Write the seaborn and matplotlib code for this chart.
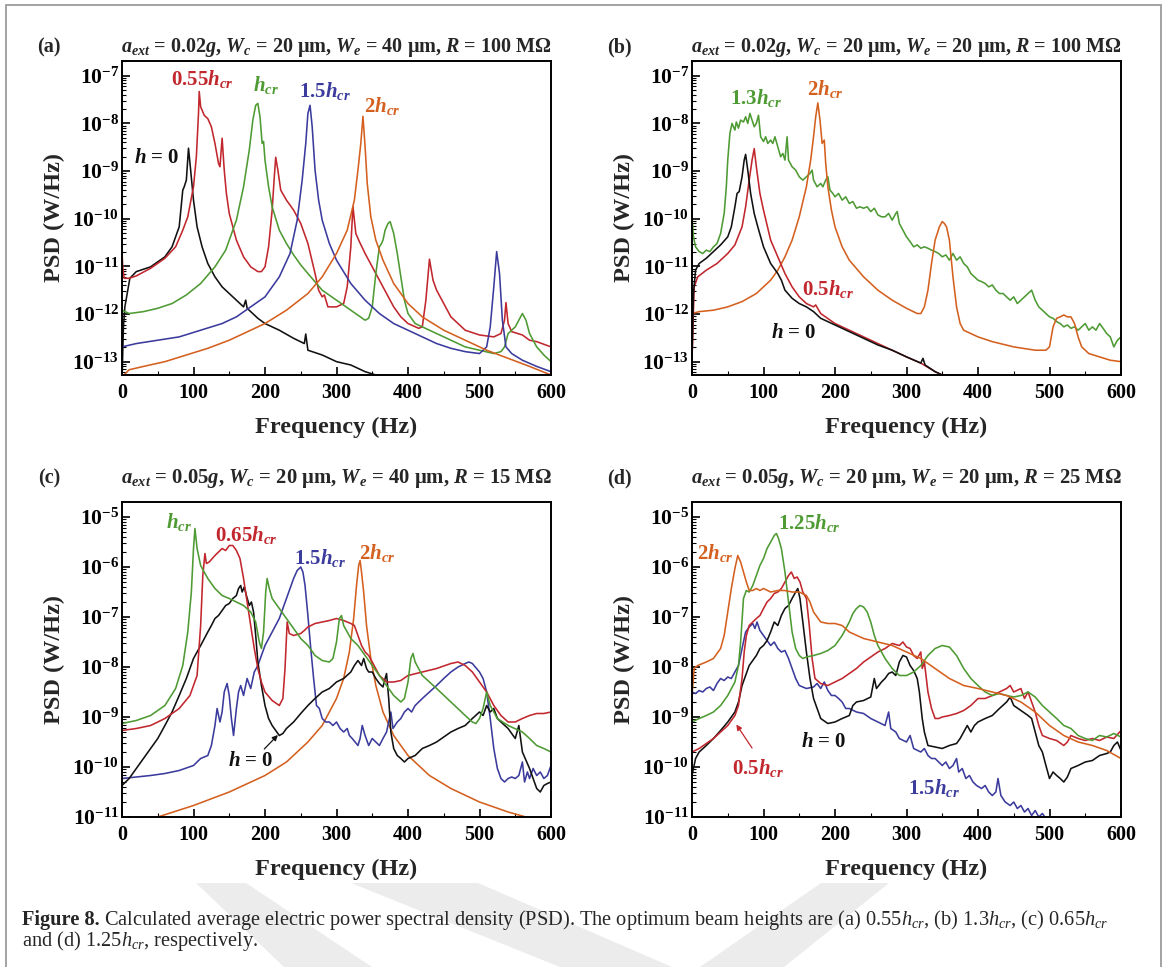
import numpy as np
import pandas as pd
import matplotlib
matplotlib.use("Agg")
import matplotlib.pyplot as plt
import seaborn as sns
from matplotlib.ticker import LogLocator, MultipleLocator, FuncFormatter, NullFormatter
from matplotlib.patches import Polygon, Rectangle

# ---------------------------------------------------------------------------
# PSD curves: (frequency in Hz, log10 of PSD in W/Hz)
# ---------------------------------------------------------------------------
# (a) a_ext = 0.02g, We = 40 um, R = 100 MOhm
A_H0 = [(0, -13.4), (2, -12.27), (4, -11.85), (11, -11.25), (20, -11.11), (40, -11.01), (60, -10.80),
        (70, -10.59), (80, -10.17), (85, -9.40), (87, -9.33), (90, -9.19), (93, -8.52), (96, -8.98),
        (100, -9.61), (105, -10.17), (112, -10.59), (120, -10.94), (130, -11.22), (140, -11.43),
        (150, -11.57), (160, -11.71), (170, -11.85), (173, -11.71), (175, -11.88), (190, -12.09),
        (200, -12.20), (220, -12.34), (240, -12.51), (255, -12.62), (257, -12.42), (260, -12.76),
        (280, -12.86), (300, -13.00), (320, -13.07), (340, -13.21), (355, -13.28), (365, -13.35)]
A_055 = [(0, -10.70), (1, -11.0), (3, -11.25), (10, -11.25), (20, -11.2), (40, -11.04), (60, -10.83),
         (75, -10.59), (85, -10.24), (92, -9.96), (100, -9.33), (104, -8.70), (107, -7.79), (108, -7.33),
         (110, -7.65), (115, -7.83), (120, -7.90), (125, -8.07), (130, -8.42), (135, -8.84), (137, -8.91),
         (140, -8.31), (143, -8.98), (146, -9.47), (150, -9.89), (160, -10.45), (170, -10.80),
         (180, -11.01), (190, -11.11), (195, -11.11), (200, -11.01), (205, -10.59), (210, -9.82),
         (213, -9.12), (215, -8.71), (218, -8.98), (222, -9.40), (230, -9.61), (240, -9.82),
         (250, -10.10), (260, -10.52), (270, -11.15), (275, -11.50), (280, -11.64), (283, -11.60),
         (288, -11.85), (300, -11.85), (310, -11.78), (315, -11.43), (320, -10.59), (323, -9.74),
         (327, -10.31), (332, -10.48), (340, -10.73), (350, -11.01), (360, -11.29), (370, -11.57),
         (380, -11.85), (390, -12.06), (400, -12.20), (415, -12.30), (420, -12.27), (425, -11.71),
         (430, -10.85), (435, -11.29), (440, -11.50), (450, -11.78), (460, -12.06), (480, -12.34),
         (500, -12.44), (520, -12.48), (530, -12.41), (535, -12.13), (537, -11.76), (540, -12.20),
         (545, -12.37), (560, -12.44), (570, -12.55), (580, -12.58), (600, -12.69)]
A_100 = [(0, -11.92), (10, -11.99), (30, -11.95), (50, -11.88), (70, -11.78), (90, -11.60), (110, -11.36),
         (130, -11.01), (145, -10.66), (160, -10.03), (170, -9.33), (178, -8.56), (183, -7.93),
         (187, -7.62), (190, -7.58), (193, -7.86), (196, -8.42), (198, -8.38), (200, -8.77), (205, -9.33),
         (210, -9.75), (220, -10.24), (230, -10.52), (240, -10.76), (250, -10.97), (260, -11.15),
         (280, -11.50), (300, -11.71), (320, -11.92), (340, -12.13), (345, -12.09), (350, -11.85),
         (355, -11.15), (360, -10.59), (363, -10.52), (365, -10.45), (368, -10.24), (372, -10.10),
         (375, -10.06), (380, -10.31), (385, -10.73), (390, -11.22), (395, -11.71), (400, -11.99),
         (410, -12.20), (420, -12.27), (440, -12.41), (460, -12.55), (480, -12.69), (500, -12.76),
         (520, -12.83), (530, -12.79), (535, -12.69), (540, -12.41), (545, -12.34), (550, -12.27),
         (555, -12.13), (560, -11.99), (565, -12.13), (570, -12.41), (580, -12.69), (590, -12.86),
         (600, -13.00)]
A_150 = [(0, -12.69), (20, -12.62), (50, -12.55), (80, -12.48), (110, -12.34), (140, -12.20), (160, -12.06),
         (180, -11.85), (200, -11.64), (220, -11.22), (235, -10.73), (245, -10.03), (252, -9.19),
         (257, -8.42), (260, -7.79), (263, -7.62), (266, -8.07), (270, -8.98), (275, -9.61), (280, -10.03),
         (290, -10.52), (300, -10.87), (320, -11.36), (340, -11.71), (360, -11.99), (380, -12.20),
         (400, -12.34), (420, -12.48), (440, -12.62), (460, -12.72), (480, -12.79), (500, -12.83),
         (510, -12.69), (515, -12.27), (520, -11.43), (524, -10.69), (528, -11.15), (532, -12.13),
         (537, -12.69), (545, -12.83), (560, -12.97), (580, -13.10), (600, -13.21)]
A_200 = [(0, -13.32), (10, -13.17), (30, -13.10), (60, -13.00), (90, -12.86), (120, -12.72), (150, -12.55),
         (180, -12.34), (200, -12.20), (230, -11.92), (260, -11.57), (280, -11.22), (300, -10.73),
         (315, -10.24), (325, -9.61), (330, -8.98), (334, -8.42), (337, -7.85), (340, -8.49),
         (343, -9.26), (348, -9.96), (355, -10.45), (365, -10.87), (380, -11.36), (400, -11.78),
         (420, -12.06), (450, -12.34), (480, -12.55), (510, -12.76), (540, -12.93), (570, -13.10),
         (600, -13.28)]

# (b) a_ext = 0.02g, We = 20 um, R = 100 MOhm
B_H0 = [(0, -12.97), (2, -11.57), (5, -11.08), (10, -10.94), (20, -10.83), (30, -10.69), (40, -10.55),
        (50, -10.38), (55, -10.17), (60, -9.75), (63, -9.47), (66, -9.43), (70, -9.12), (73, -8.77),
        (75, -8.65), (78, -8.98), (82, -9.47), (87, -9.89), (92, -10.17), (100, -10.59), (110, -10.94),
        (120, -11.15), (125, -11.29), (130, -11.50), (140, -11.67), (150, -11.78), (160, -11.85),
        (170, -11.95), (180, -12.09), (190, -12.16), (200, -12.23), (220, -12.37), (240, -12.51),
        (260, -12.65), (280, -12.76), (300, -12.90), (320, -13.03), (323, -12.93), (326, -13.07),
        (340, -13.21), (350, -13.28), (360, -13.35)]
B_050 = [(0, -12.97), (3, -11.43), (8, -11.22), (20, -11.08), (35, -10.94), (50, -10.73), (60, -10.55),
         (70, -10.17), (75, -9.75), (80, -9.19), (84, -8.77), (87, -8.53), (90, -8.91), (95, -9.47),
         (100, -9.82), (110, -10.45), (120, -10.80), (130, -11.15), (140, -11.43), (150, -11.64),
         (160, -11.78), (170, -11.85), (173, -11.81), (180, -11.99), (200, -12.20), (220, -12.34),
         (240, -12.48), (260, -12.62), (280, -12.76), (300, -12.90), (320, -13.03), (340, -13.21),
         (350, -13.28), (360, -13.35)]
B_130 = [(0, -9.96), (2, -10.38), (5, -10.59), (10, -10.69), (15, -10.73), (20, -10.66), (25, -10.69),
         (30, -10.59), (35, -10.52), (40, -10.31), (45, -9.89), (48, -9.33), (50, -8.77), (53, -8.21),
         (56, -8.00), (60, -8.14), (62, -7.97), (65, -8.10), (68, -7.93), (72, -7.97), (75, -7.86),
         (78, -8.00), (81, -7.79), (84, -7.93), (87, -8.07), (90, -8.00), (93, -7.83), (96, -8.28),
         (100, -8.38), (103, -8.28), (106, -8.42), (110, -8.35), (113, -8.42), (116, -8.28),
         (120, -8.49), (124, -8.70), (127, -8.63), (130, -8.77), (133, -8.28), (135, -8.77),
         (140, -8.91), (145, -8.98), (150, -9.12), (155, -9.19), (160, -9.12), (165, -9.05),
         (168, -8.98), (170, -9.19), (175, -9.33), (180, -9.26), (183, -9.33), (187, -9.19),
         (190, -9.12), (193, -9.40), (197, -9.47), (200, -9.54), (205, -9.47), (210, -9.61),
         (215, -9.54), (220, -9.68), (225, -9.64), (230, -9.78), (235, -9.75), (240, -9.78),
         (245, -9.75), (250, -9.85), (255, -9.78), (260, -9.92), (265, -9.96), (270, -9.96),
         (275, -9.89), (280, -10.03), (285, -9.89), (287, -9.85), (290, -10.10), (295, -10.24),
         (300, -10.38), (305, -10.48), (310, -10.59), (315, -10.55), (320, -10.62), (325, -10.59),
         (330, -10.62), (335, -10.66), (340, -10.69), (345, -10.73), (350, -10.80), (355, -10.76),
         (360, -10.87), (365, -10.73), (370, -10.87), (375, -10.80), (380, -10.94), (385, -11.01),
         (390, -11.15), (395, -11.22), (400, -11.29), (405, -11.32), (410, -11.36), (415, -11.43),
         (420, -11.39), (425, -11.50), (430, -11.57), (435, -11.57), (440, -11.64), (445, -11.71),
         (450, -11.64), (455, -11.78), (460, -11.71), (465, -11.64), (470, -11.57), (475, -11.50),
         (480, -11.71), (485, -11.85), (490, -11.92), (495, -11.99), (500, -12.06), (505, -12.09),
         (510, -12.16), (515, -12.20), (520, -12.27), (525, -12.23), (530, -12.30), (535, -12.27),
         (540, -12.34), (545, -12.27), (550, -12.20), (555, -12.34), (560, -12.27), (565, -12.34),
         (570, -12.20), (575, -12.30), (580, -12.41), (585, -12.48), (590, -12.69), (595, -12.55),
         (600, -12.48)]
B_200 = [(0, -11.99), (10, -11.95), (30, -11.92), (50, -11.85), (70, -11.74), (90, -11.57), (110, -11.29),
         (120, -11.08), (130, -10.80), (140, -10.45), (150, -9.96), (160, -9.33), (166, -8.77),
         (170, -8.28), (173, -7.86), (176, -7.57), (179, -7.93), (182, -8.42), (185, -8.35), (187, -8.84),
         (190, -9.33), (195, -9.82), (200, -10.17), (210, -10.59), (220, -10.87), (240, -11.22),
         (260, -11.50), (280, -11.71), (300, -11.88), (315, -11.99), (320, -11.99), (325, -11.85),
         (330, -11.50), (335, -10.94), (340, -10.45), (343, -10.31), (346, -10.17), (350, -10.06),
         (353, -10.10), (356, -10.17), (360, -10.45), (365, -11.22), (370, -11.85), (375, -12.20),
         (380, -12.34), (400, -12.48), (420, -12.58), (450, -12.69), (480, -12.76), (495, -12.76),
         (500, -12.69), (505, -12.27), (510, -12.09), (515, -12.06), (520, -12.02), (525, -12.06),
         (530, -12.06), (535, -12.20), (540, -12.48), (545, -12.69), (555, -12.83), (570, -12.90),
         (585, -12.97), (600, -13.00)]

# (c) a_ext = 0.05g, We = 40 um, R = 15 MOhm
C_H0 = [(0, -10.37), (10, -10.23), (20, -10.03), (30, -9.83), (40, -9.63), (50, -9.43), (60, -9.17),
        (70, -8.90), (80, -8.57), (90, -8.23), (100, -7.83), (110, -7.57), (120, -7.30), (125, -7.17),
        (130, -7.03), (135, -6.97), (140, -6.87), (145, -6.77), (150, -6.73), (155, -6.63), (160, -6.57),
        (163, -6.43), (166, -6.37), (168, -6.50), (171, -6.40), (174, -6.57), (178, -6.77), (181, -6.70),
        (184, -6.90), (187, -7.37), (190, -7.90), (195, -8.37), (200, -8.77), (205, -9.03), (210, -9.17),
        (215, -9.27), (220, -9.37), (225, -9.33), (230, -9.23), (240, -9.10), (250, -8.93), (260, -8.77),
        (270, -8.63), (280, -8.50), (290, -8.43), (300, -8.30), (310, -8.23), (320, -8.10), (325, -7.97),
        (330, -7.87), (335, -7.97), (338, -7.83), (342, -8.03), (345, -8.10), (350, -8.10), (355, -8.23),
        (360, -8.33), (365, -8.40), (368, -8.23), (370, -8.13), (373, -8.63), (376, -9.30), (380, -9.63),
        (385, -9.77), (390, -9.83), (395, -9.90), (400, -9.83), (410, -9.77), (420, -9.63), (430, -9.57),
        (440, -9.50), (450, -9.40), (460, -9.30), (470, -9.23), (480, -9.17), (490, -9.03), (500, -8.90),
        (505, -8.97), (510, -8.77), (515, -8.90), (520, -8.83), (525, -9.03), (530, -9.10), (540, -9.23),
        (550, -9.43), (555, -9.17), (560, -9.70), (570, -10.03), (575, -10.23), (580, -10.43),
        (585, -10.50), (590, -10.37), (595, -10.33), (600, -10.30)]
C_065 = [(0, -9.27), (20, -9.23), (40, -9.17), (60, -9.03), (80, -8.83), (95, -8.57), (105, -8.17),
         (110, -7.17), (113, -6.17), (116, -5.73), (118, -5.93), (122, -5.90), (130, -5.77), (140, -5.63),
         (145, -5.67), (150, -5.57), (155, -5.57), (160, -5.67), (165, -5.83), (170, -6.23), (175, -6.70),
         (180, -7.17), (185, -7.63), (190, -8.03), (195, -8.30), (200, -8.50), (210, -8.67), (220, -8.77),
         (225, -8.63), (228, -8.03), (231, -7.10), (234, -7.33), (240, -7.37), (250, -7.33), (255, -7.27),
         (260, -7.20), (270, -7.13), (280, -7.10), (290, -7.07), (300, -7.03), (310, -7.07), (320, -7.13),
         (325, -7.17), (330, -7.37), (335, -7.57), (340, -7.70), (345, -7.77), (350, -7.90), (360, -8.17),
         (370, -8.30), (380, -8.30), (390, -8.27), (400, -8.17), (420, -8.10), (440, -8.03), (460, -7.93),
         (470, -7.90), (480, -7.97), (490, -8.10), (500, -8.30), (510, -8.50), (520, -8.77), (530, -8.97),
         (540, -9.10), (550, -9.10), (560, -9.03), (570, -8.97), (580, -8.93), (590, -8.93), (600, -8.90)]
C_100 = [(0, -9.13), (20, -9.07), (40, -8.97), (60, -8.77), (75, -8.43), (85, -7.97), (92, -7.30),
         (97, -6.50), (100, -5.63), (102, -5.23), (105, -5.63), (110, -5.97), (115, -6.10), (120, -6.23),
         (130, -6.43), (140, -6.57), (150, -6.63), (160, -6.70), (170, -6.77), (180, -6.90), (187, -7.10),
         (192, -7.50), (195, -7.63), (198, -7.30), (201, -6.50), (203, -6.23), (206, -6.43), (210, -6.63),
         (220, -6.83), (230, -7.03), (240, -7.23), (250, -7.43), (260, -7.57), (270, -7.77), (280, -7.87),
         (290, -7.90), (295, -7.83), (300, -7.50), (304, -7.03), (307, -6.97), (310, -7.17), (320, -7.43),
         (330, -7.57), (340, -7.77), (350, -7.97), (360, -8.17), (370, -8.37), (380, -8.57), (390, -8.70),
         (395, -8.63), (400, -8.30), (404, -7.83), (407, -7.73), (410, -7.90), (420, -8.17), (440, -8.43),
         (460, -8.70), (480, -8.97), (490, -9.10), (495, -9.13), (500, -9.03), (505, -8.83), (510, -8.50),
         (515, -8.77), (525, -9.03), (540, -9.17), (560, -9.30), (570, -9.43), (580, -9.57), (590, -9.63),
         (600, -9.70)]
C_150 = [(0, -10.23), (20, -10.20), (40, -10.17), (60, -10.13), (80, -10.07), (100, -9.97), (110, -9.83),
         (120, -9.77), (125, -9.57), (130, -9.17), (133, -8.83), (137, -9.10), (140, -8.90), (143, -8.50),
         (147, -8.33), (150, -8.57), (153, -9.03), (156, -9.37), (160, -8.83), (163, -8.50), (166, -8.37),
         (170, -8.57), (175, -8.23), (180, -8.43), (185, -8.10), (190, -7.97), (195, -7.77), (200, -7.57),
         (210, -7.30), (220, -7.03), (230, -6.63), (240, -6.23), (245, -6.07), (250, -6.00), (253, -6.10),
         (256, -6.37), (260, -6.97), (264, -7.63), (268, -8.23), (272, -8.77), (276, -8.83), (280, -9.03),
         (285, -9.10), (290, -9.10), (295, -9.17), (300, -9.10), (305, -9.23), (310, -9.30), (315, -9.23),
         (318, -9.37), (322, -9.43), (326, -9.50), (330, -9.57), (333, -9.43), (336, -9.17), (340, -9.37),
         (345, -9.57), (350, -9.43), (355, -9.50), (360, -9.57), (365, -9.43), (370, -9.30), (373, -9.10),
         (376, -8.90), (379, -9.23), (385, -9.10), (390, -9.03), (395, -8.90), (400, -8.83), (405, -8.90),
         (410, -8.77), (420, -8.63), (430, -8.50), (440, -8.37), (450, -8.23), (460, -8.10), (470, -8.00),
         (480, -7.93), (485, -7.90), (490, -7.93), (500, -8.10), (505, -8.23), (510, -8.50), (515, -9.03),
         (520, -9.63), (525, -10.03), (530, -10.23), (535, -10.30), (540, -10.23), (545, -10.20),
         (550, -10.23), (555, -10.17), (560, -9.90), (563, -10.30), (567, -10.10), (570, -10.23),
         (575, -10.03), (580, -10.17), (585, -10.10), (590, -10.23), (595, -10.17), (600, -9.97)]
C_200 = [(0, -11.23), (50, -11.00), (100, -10.77), (150, -10.50), (200, -10.17), (230, -9.90), (260, -9.50),
         (280, -9.17), (300, -8.63), (310, -8.23), (318, -7.70), (324, -7.03), (328, -6.37), (331, -5.97),
         (333, -5.87), (335, -6.10), (338, -6.50), (342, -7.17), (348, -7.83), (355, -8.37), (365, -8.90),
         (380, -9.37), (400, -9.77), (430, -10.17), (460, -10.43), (500, -10.70), (540, -10.90),
         (565, -11.00), (600, -11.23)]

# (d) a_ext = 0.05g, We = 20 um, R = 25 MOhm
D_H0 = [(0, -10.17), (5, -9.83), (10, -9.70), (20, -9.57), (30, -9.43), (40, -9.27), (50, -9.10), (60, -8.90),
        (65, -8.70), (70, -8.37), (75, -8.17), (80, -7.97), (85, -7.87), (90, -7.77), (95, -7.63),
        (100, -7.57), (105, -7.47), (110, -7.30), (115, -7.10), (120, -7.17), (125, -6.97), (130, -6.83),
        (135, -6.77), (140, -6.63), (145, -6.50), (148, -6.43), (151, -6.63), (155, -7.10), (160, -7.70),
        (165, -8.23), (170, -8.63), (180, -9.03), (190, -9.13), (200, -9.10), (210, -9.03), (220, -8.97),
        (225, -8.77), (230, -8.70), (240, -8.67), (250, -8.60), (255, -8.23), (258, -8.43), (265, -8.30),
        (270, -8.23), (275, -8.13), (280, -8.10), (285, -8.17), (290, -7.90), (295, -7.77), (300, -7.80),
        (305, -7.97), (310, -8.07), (315, -8.23), (318, -8.50), (322, -9.03), (325, -9.30), (330, -9.57),
        (340, -9.60), (350, -9.63), (360, -9.57), (370, -9.53), (375, -9.43), (380, -9.30), (385, -9.17),
        (390, -9.30), (395, -9.17), (400, -9.10), (410, -9.03), (420, -8.97), (430, -8.83), (440, -8.70),
        (445, -8.60), (450, -8.77), (460, -8.87), (470, -8.97), (475, -9.03), (480, -9.30), (485, -9.57),
        (490, -9.70), (495, -9.97), (500, -10.23), (505, -10.10), (510, -10.17), (515, -10.23),
        (520, -10.30), (525, -10.20), (530, -10.03), (540, -9.97), (550, -9.90), (560, -9.87),
        (570, -9.77), (580, -9.73), (585, -9.70), (590, -9.57), (595, -9.50), (600, -9.67)]
D_050 = [(0, -9.70), (10, -9.63), (20, -9.53), (30, -9.43), (40, -9.30), (50, -9.17), (60, -8.97),
         (65, -8.77), (70, -8.23), (73, -7.70), (76, -7.37), (80, -7.17), (85, -7.10), (90, -7.03),
         (95, -6.97), (100, -6.83), (105, -6.70), (110, -6.63), (115, -6.53), (120, -6.50), (125, -6.43),
         (130, -6.30), (135, -6.17), (139, -6.10), (143, -6.23), (147, -6.20), (151, -6.30), (155, -6.50),
         (160, -6.63), (164, -7.17), (168, -7.83), (172, -8.23), (180, -8.33), (190, -8.37), (200, -8.30),
         (210, -8.23), (220, -8.13), (230, -8.03), (240, -7.90), (250, -7.80), (260, -7.70), (270, -7.63),
         (280, -7.53), (290, -7.57), (295, -7.50), (300, -7.60), (305, -7.63), (310, -7.77), (315, -7.83),
         (320, -7.70), (322, -8.03), (325, -7.90), (330, -8.50), (335, -8.83), (340, -9.03), (345, -9.03),
         (350, -9.00), (360, -8.97), (370, -8.93), (380, -8.87), (390, -8.77), (400, -8.63), (410, -8.63),
         (420, -8.57), (430, -8.50), (440, -8.43), (445, -8.37), (450, -8.50), (460, -8.43), (465, -8.63),
         (470, -8.50), (475, -8.70), (480, -8.90), (485, -9.17), (490, -9.37), (500, -9.43), (510, -9.47),
         (520, -9.57), (525, -9.50), (530, -9.37), (540, -9.43), (550, -9.47), (560, -9.43), (570, -9.47),
         (580, -9.40), (590, -9.43), (600, -9.27)]
D_125 = [(0, -9.10), (10, -9.03), (20, -8.97), (30, -8.90), (40, -8.77), (50, -8.57), (60, -8.30),
         (65, -7.97), (68, -7.50), (72, -6.63), (76, -6.47), (80, -6.50), (85, -6.37), (90, -6.17),
         (95, -5.97), (100, -5.83), (105, -5.63), (110, -5.50), (115, -5.37), (118, -5.33), (121, -5.43),
         (125, -5.63), (130, -6.10), (135, -6.70), (140, -7.30), (145, -7.63), (150, -7.77), (155, -7.83),
         (160, -7.80), (170, -7.77), (180, -7.73), (190, -7.67), (200, -7.57), (210, -7.37), (220, -7.10),
         (225, -6.93), (230, -6.83), (235, -6.77), (240, -6.80), (245, -6.90), (250, -7.10), (255, -7.37),
         (260, -7.57), (270, -7.83), (280, -8.03), (290, -8.17), (300, -8.17), (310, -8.10), (320, -7.97),
         (330, -7.77), (340, -7.63), (350, -7.57), (360, -7.60), (370, -7.77), (380, -8.03), (390, -8.23),
         (400, -8.37), (410, -8.50), (420, -8.57), (430, -8.53), (440, -8.57), (450, -8.60), (460, -8.57),
         (470, -8.50), (480, -8.60), (490, -8.77), (500, -8.90), (510, -9.03), (520, -9.17), (530, -9.23),
         (540, -9.37), (550, -9.43), (560, -9.47), (570, -9.37), (580, -9.40), (590, -9.33), (600, -9.40)]
D_150 = [(0, -8.50), (5, -8.53), (10, -8.47), (15, -8.50), (20, -8.43), (25, -8.40), (30, -8.47), (35, -8.33),
         (40, -8.23), (45, -8.27), (50, -8.20), (55, -8.23), (60, -8.10), (65, -7.97), (70, -7.63),
         (75, -7.30), (80, -7.20), (85, -7.13), (88, -7.23), (91, -7.10), (95, -7.27), (100, -7.37),
         (105, -7.47), (110, -7.57), (115, -7.50), (120, -7.63), (125, -7.70), (130, -7.67), (135, -7.83),
         (140, -8.03), (145, -8.23), (150, -8.37), (160, -8.43), (170, -8.40), (175, -8.33), (180, -8.43),
         (185, -8.30), (190, -8.47), (195, -8.57), (200, -8.57), (205, -8.63), (210, -8.70), (215, -8.83),
         (220, -8.83), (230, -8.90), (240, -8.93), (250, -9.03), (260, -9.10), (270, -9.17), (275, -8.90),
         (278, -9.23), (285, -9.30), (290, -9.43), (300, -9.50), (305, -9.37), (310, -9.63), (320, -9.70),
         (325, -9.63), (330, -9.77), (335, -9.83), (340, -9.83), (345, -9.90), (350, -9.97), (355, -9.90),
         (360, -10.03), (365, -9.97), (370, -9.83), (373, -10.10), (378, -10.03), (383, -10.23),
         (388, -10.17), (393, -10.30), (398, -10.37), (405, -10.43), (410, -10.37), (415, -10.50),
         (420, -10.57), (425, -10.50), (428, -10.23), (432, -10.57), (438, -10.70), (445, -10.77),
         (450, -10.70), (455, -10.83), (460, -10.77), (465, -10.90), (470, -10.83), (475, -10.97),
         (480, -10.87), (485, -11.00), (490, -10.93), (495, -11.03), (500, -11.10), (510, -11.00),
         (520, -11.17), (530, -11.07), (535, -11.00), (540, -11.23)]
D_200 = [(0, -8.57), (3, -8.03), (8, -7.97), (20, -7.90), (30, -7.83), (40, -7.63), (45, -7.37), (50, -6.90),
         (55, -6.43), (60, -6.03), (64, -5.77), (68, -5.90), (72, -6.10), (76, -6.30), (80, -6.47),
         (85, -6.47), (90, -6.43), (95, -6.47), (100, -6.43), (110, -6.50), (120, -6.47), (130, -6.47),
         (140, -6.50), (150, -6.50), (160, -6.57), (165, -6.70), (170, -6.90), (180, -7.10), (190, -7.13),
         (200, -7.13), (210, -7.17), (220, -7.30), (240, -7.43), (260, -7.50), (280, -7.57), (300, -7.70),
         (320, -7.83), (340, -8.03), (360, -8.23), (380, -8.37), (400, -8.43), (420, -8.50), (440, -8.57),
         (460, -8.70), (480, -8.90), (500, -9.17), (520, -9.37), (540, -9.50), (560, -9.57), (580, -9.67),
         (600, -9.83)]

# Panel headers and curve annotations
PANEL_TAGS = ["(a)", "(b)", "(c)", "(d)"]
PANEL_TITLES = [
    r"$\mathbfit{a}_{\mathbfit{ext}}$ = 0.02$\mathbfit{g}$, $\mathbfit{W}_{\mathbfit{c}}$ = 20 μm, "
    r"$\mathbfit{W}_{\mathbfit{e}}$ = 40 μm, $\mathbfit{R}$ = 100 MΩ",
    r"$\mathbfit{a}_{\mathbfit{ext}}$ = 0.02$\mathbfit{g}$, $\mathbfit{W}_{\mathbfit{c}}$ = 20 μm, "
    r"$\mathbfit{W}_{\mathbfit{e}}$ = 20 μm, $\mathbfit{R}$ = 100 MΩ",
    r"$\mathbfit{a}_{\mathbfit{ext}}$ = 0.05$\mathbfit{g}$, $\mathbfit{W}_{\mathbfit{c}}$ = 20 μm, "
    r"$\mathbfit{W}_{\mathbfit{e}}$ = 40 μm, $\mathbfit{R}$ = 15 MΩ",
    r"$\mathbfit{a}_{\mathbfit{ext}}$ = 0.05$\mathbfit{g}$, $\mathbfit{W}_{\mathbfit{c}}$ = 20 μm, "
    r"$\mathbfit{W}_{\mathbfit{e}}$ = 20 μm, $\mathbfit{R}$ = 25 MΩ",
]
HCR = r"$\mathbfit{h}_{\mathbfit{cr}}$"
H_ZERO = r"$\mathbfit{h}$ = 0"
X_TICKS = [0, 100, 200, 300, 400, 500, 600]
X_LABEL = "Frequency (Hz)"
Y_LABEL = "PSD (W/Hz)"
CAPTION_BOLD = "Figure 8."
CAPTION_1 = (r"Calculated average electric power spectral density (PSD). "
             r"The optimum beam heights are (a) 0.55$h_{cr}$, (b) 1.3$h_{cr}$, (c) 0.65$h_{cr}$")
CAPTION_2 = r"and (d) 1.25$h_{cr}$, respectively."

RED, GREEN, BLUE, ORANGE, BLACK = "#c1272d", "#4e9a33", "#3b3b9d", "#d4601f", "#111111"

PANELS = [
    dict(curves={"h0": (A_H0, BLACK), "0.55": (A_055, RED), "1.0": (A_100, GREEN),
                 "1.5": (A_150, BLUE), "2.0": (A_200, ORANGE)},
         ylim=(10 ** -13.28, 10 ** -6.69),
         labels=[(49, -8.73, H_ZERO, BLACK), (112, -7.06, "0.55" + HCR, RED), (201, -7.2, HCR, GREEN),
                 (284, -7.32, "1.5" + HCR, BLUE), (364, -7.63, "2" + HCR, ORANGE)],
         arrows=[]),
    dict(curves={"1.3": (B_130, GREEN), "2.0": (B_200, ORANGE), "0.5": (B_050, RED), "h0": (B_H0, BLACK)},
         ylim=(10 ** -13.28, 10 ** -6.69),
         labels=[(90, -7.46, "1.3" + HCR, GREEN), (187, -7.28, "2" + HCR, ORANGE),
                 (190, -11.48, "0.5" + HCR, RED), (143, -12.4, H_ZERO, BLACK)],
         arrows=[]),
    dict(curves={"2.0": (C_200, ORANGE), "1.5": (C_150, BLUE), "h0": (C_H0, BLACK),
                 "0.65": (C_065, RED), "1.0": (C_100, GREEN)},
         ylim=(1e-11, 10 ** -4.7),
         labels=[(80, -5.1, HCR, GREEN), (174, -5.36, "0.65" + HCR, RED), (277, -5.82, "1.5" + HCR, BLUE),
                 (357, -5.72, "2" + HCR, ORANGE), (180, -9.87, H_ZERO, BLACK)],
         arrows=[((199, -9.64), (218, -9.36), BLACK)]),
    dict(curves={"1.5": (D_150, BLUE), "h0": (D_H0, BLACK), "0.5": (D_050, RED),
                 "1.25": (D_125, GREEN), "2.0": (D_200, ORANGE)},
         ylim=(1e-11, 10 ** -4.7),
         labels=[(32, -5.72, "2" + HCR, ORANGE), (164, -5.12, "1.25" + HCR, GREEN),
                 (185, -9.5, H_ZERO, BLACK), (92, -10.02, "0.5" + HCR, RED),
                 (338, -10.42, "1.5" + HCR, BLUE)],
         arrows=[((84, -9.62), (62, -9.15), RED)]),
]

# ---------------------------------------------------------------------------
sns.set_style("ticks")
plt.rcParams["font.family"] = ["Liberation Serif", "DejaVu Serif"]
plt.rcParams["font.weight"] = "bold"
plt.rcParams["mathtext.fontset"] = "custom"
plt.rcParams["mathtext.rm"] = "Liberation Serif:normal"
plt.rcParams["mathtext.it"] = "Liberation Serif:italic:normal"
plt.rcParams["mathtext.bf"] = "Liberation Serif:bold"
plt.rcParams["mathtext.bfit"] = "Liberation Serif:italic:bold"

W, H = 1171, 967
fig = plt.figure(figsize=(W / 100, H / 100), dpi=100)


def fx(px):
    return px / W


def fy(py):
    return 1 - py / H


# faint watermark strokes below the figure body
for pts in ([(196, 883), (246, 883), (372, 967), (284, 967)],
            [(351, 883), (478, 883), (672, 967), (560, 967)],
            [(821, 883), (889, 883), (784, 967), (700, 967)]):
    fig.patches.append(Polygon([(fx(x), fy(y)) for x, y in pts], closed=True, transform=fig.transFigure,
                               facecolor="#ececec", edgecolor="none", zorder=0))
# outer frame
fig.patches.append(Rectangle((fx(6), fy(990)), fx(1161 - 6), (990 - 5) / H, transform=fig.transFigure,
                             fill=False, edgecolor="#9c9c9c", lw=1.3, zorder=1))

boxes = [(122, 61, 551, 375), (692, 61, 1121, 375), (122, 502, 551, 817), (692, 502, 1121, 817)]


def log_fmt(v, pos):
    e = int(round(np.log10(v)))
    return r"$\mathbf{10^{%d}}$" % e


title_texts = []
for i, (spec, (x0, y0, x1, y1)) in enumerate(zip(PANELS, boxes)):
    ax = fig.add_axes([fx(x0), fy(y1), fx(x1 - x0), (y1 - y0) / H])
    ax.set_yscale("log")
    frames = []
    for name, (pairs, col) in spec["curves"].items():
        arr = np.array(pairs, dtype=float)
        frames.append(pd.DataFrame({"freq": arr[:, 0], "psd": 10.0 ** arr[:, 1], "curve": name}))
    df = pd.concat(frames, ignore_index=True)
    palette = {k: c for k, (_, c) in spec["curves"].items()}
    sns.lineplot(data=df, x="freq", y="psd", hue="curve", hue_order=list(spec["curves"]),
                 palette=palette, estimator=None, sort=False, legend=False, lw=1.15, ax=ax)
    ax.set_xlim(0, 600)
    ax.set_ylim(*spec["ylim"])
    ax.set_xlabel("")
    ax.set_ylabel("")
    ax.xaxis.set_major_locator(plt.FixedLocator(X_TICKS))
    ax.xaxis.set_minor_locator(MultipleLocator(50))
    ax.yaxis.set_major_locator(LogLocator(base=10, numticks=30))
    ax.yaxis.set_minor_locator(LogLocator(base=10, subs=np.arange(2, 10) * 1.0, numticks=100))
    ax.yaxis.set_major_formatter(FuncFormatter(log_fmt))
    ax.yaxis.set_minor_formatter(NullFormatter())
    ax.tick_params(axis="both", which="both", direction="in", top=False, right=False, colors="black")
    ax.tick_params(axis="both", which="major", length=6, width=1.2, labelsize=14.5)
    ax.tick_params(axis="y", which="major", labelsize=15.5, pad=2)
    ax.tick_params(axis="both", which="minor", length=3, width=0.8)
    ax.tick_params(axis="x", which="major", pad=6)
    for sp in ax.spines.values():
        sp.set_visible(True)
        sp.set_linewidth(1.4)
        sp.set_color("black")

    for (fq, lv, txt, col) in spec["labels"]:
        ax.text(fq, 10 ** lv, txt, color=col, fontsize=15, fontweight="bold", ha="center", va="center")
    for (tail, head, col) in spec["arrows"]:
        ax.annotate("", xy=(head[0], 10 ** head[1]), xytext=(tail[0], 10 ** tail[1]),
                    arrowprops=dict(arrowstyle="-|>", color=col, lw=0.9, mutation_scale=8,
                                    shrinkA=0, shrinkB=0))

    base_y = 52 if i < 2 else 483
    fig.text(fx(x0 - 73), fy(base_y), PANEL_TAGS[i], fontsize=14.5, fontweight="bold",
             ha="center", va="baseline")
    t = fig.text(fx((x0 + x1) / 2), fy(base_y), PANEL_TITLES[i], fontsize=13, fontweight="bold",
                 ha="center", va="baseline")
    title_texts.append((t, x1 - x0))
    fig.text(fx(x0 - 68), fy((y0 + y1) / 2), Y_LABEL, fontsize=17.5, fontweight="bold",
             rotation=90, ha="center", va="center")
    fig.text(fx((x0 + x1) / 2), fy(y1 + 52), X_LABEL, fontsize=17.5, fontweight="bold",
             ha="center", va="center")

# caption: bold lead-in followed by plain text, two lines
cap_b = fig.text(fx(22), fy(925), CAPTION_BOLD, fontsize=11, fontweight="bold", ha="left", va="baseline")
cap1 = fig.text(fx(90), fy(925), CAPTION_1, fontsize=11, fontweight="normal", ha="left", va="baseline")
cap2 = fig.text(fx(22), fy(946), CAPTION_2, fontsize=11, fontweight="normal", ha="left", va="baseline")

# fit header and caption widths to the layout
fig.canvas.draw()
rend = fig.canvas.get_renderer()
for t, target in title_texts:
    w = t.get_window_extent(rend).width
    t.set_fontsize(t.get_fontsize() * target / w)
wb = cap_b.get_window_extent(rend).width
w1 = cap1.get_window_extent(rend).width
gap = 5
scale = (1105 - 22 - gap) / (wb + w1)
size = 11 * scale
for c in (cap_b, cap1, cap2):
    c.set_fontsize(size)
cap1.set_x(fx(22 + wb * scale + gap))

fig.savefig("out.png", dpi=100, facecolor="white")
